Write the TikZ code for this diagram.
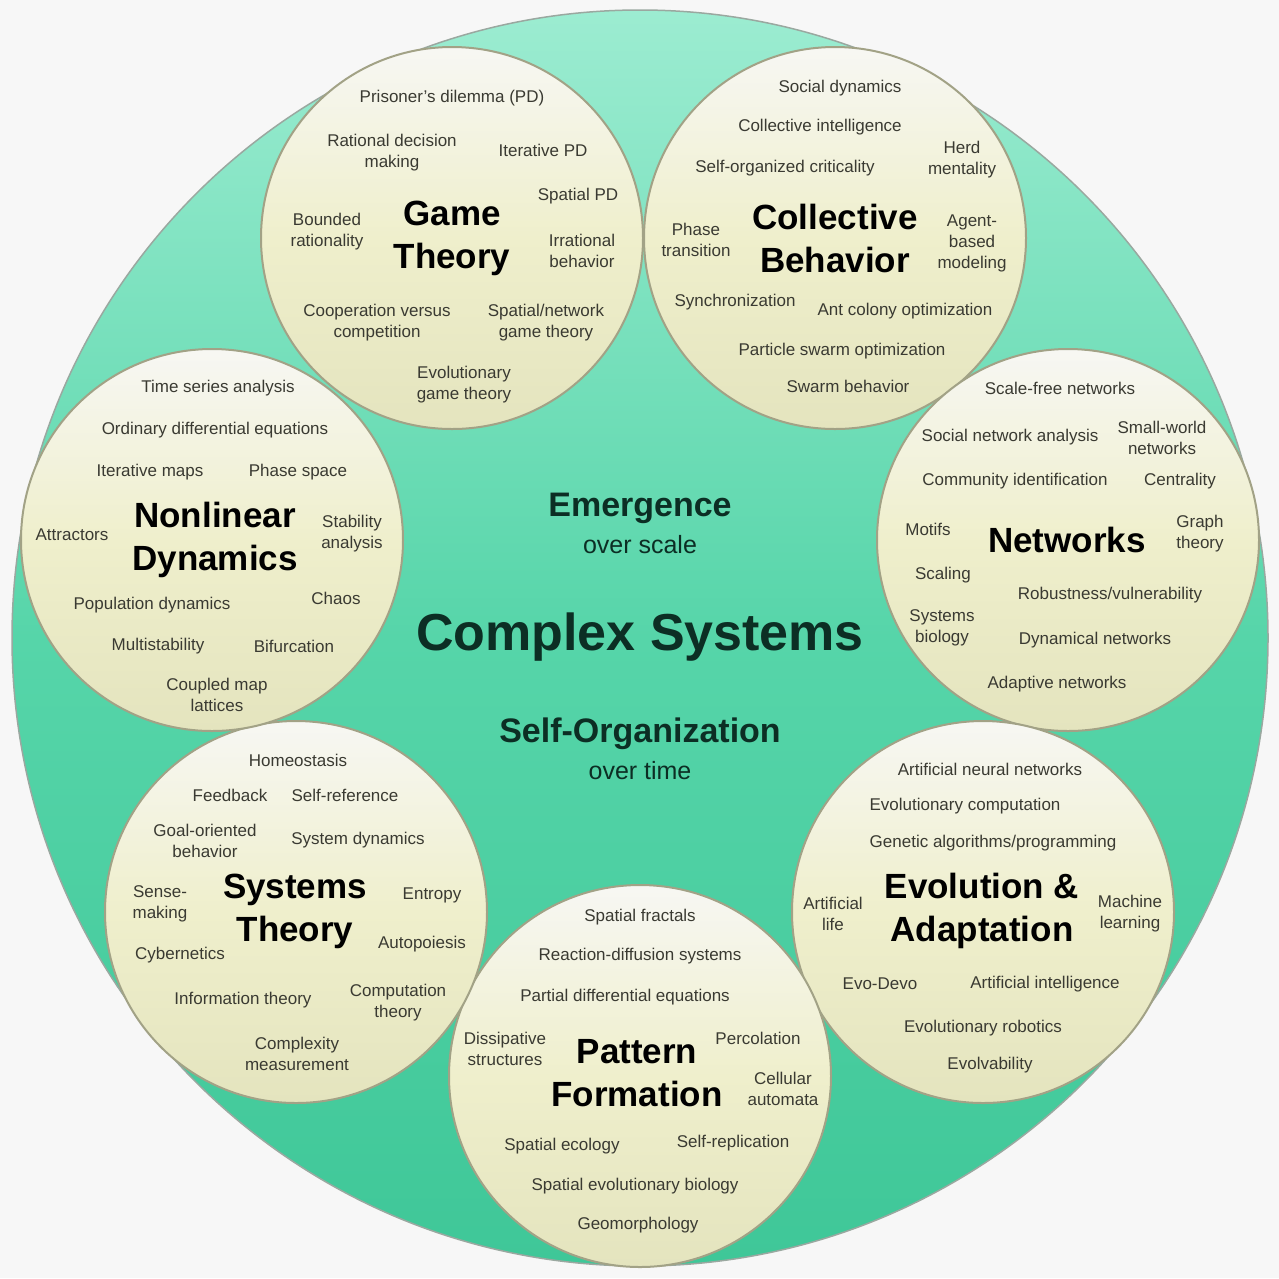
\documentclass[tikz,border=0pt]{standalone}
\usepackage{fontspec}
\setmainfont{Liberation Sans}
\definecolor{bgc}{HTML}{F7F7F7}
\definecolor{bigtop}{HTML}{9CECD1}
\definecolor{bigmid}{HTML}{56D5A9}
\definecolor{bigbot}{HTML}{3FC798}
\definecolor{bigedge}{HTML}{9AA8A0}
\definecolor{ctop}{HTML}{F7F7F3}
\definecolor{cmid}{HTML}{EFEFCC}
\definecolor{cbot}{HTML}{E4E4BE}
\definecolor{cedge}{HTML}{A2A286}
\definecolor{smalltxt}{HTML}{3A3A32}
\definecolor{centertxt}{HTML}{0C2E24}
\newcommand\lbl[3]{\node[small] (#1) at (#2) {#3};}
\begin{document}
\begin{tikzpicture}[x=1pt,y=-1pt,
  bigc/.style={circle,minimum size=1256pt,inner sep=0pt,draw=bigedge,line width=1.5pt,
    top color=bigtop,bottom color=bigbot,middle color=bigmid},
  topic/.style={circle,minimum size=382pt,inner sep=0pt,draw=cedge,line width=2pt,
    top color=ctop,bottom color=cbot,middle color=cmid},
  small/.style={align=center,inner sep=0pt,text=smalltxt,font=\fontsize{17pt}{21pt}\selectfont},
  title/.style={align=center,inner sep=0pt,text=black,font=\fontsize{35pt}{43pt}\selectfont\bfseries},
  ctitle/.style={align=center,inner sep=0pt,text=centertxt,font=\fontsize{34pt}{40pt}\selectfont\bfseries},
  csub/.style={align=center,inner sep=0pt,text=centertxt,font=\fontsize{25pt}{30pt}\selectfont},
  cbig/.style={align=center,inner sep=0pt,text=centertxt,font=\fontsize{52pt}{60pt}\selectfont\bfseries}]
\fill[bgc] (0,0) rectangle (1279,1278);
\useasboundingbox (0,0) rectangle (1279,1278);

\node[bigc] (big) at (640,638) {};

% topic circles
\node[topic] (cgt) at (452,238) {};
\node[topic] (ccb) at (835,238) {};
\node[topic] (cnw) at (1068,540) {};
\node[topic] (cev) at (983,912) {};
\node[topic] (cpf) at (640,1076) {};
\node[topic] (cst) at (296,912) {};
\node[topic] (cnd) at (212,540) {};

% center texts
\node[ctitle] (emer) at (640,508) {Emergence};
\node[csub] (os) at (640,545) {over scale};
\node[cbig] (cs) at (640,637) {Complex Systems};
\node[ctitle] (so) at (640,734) {Self-Organization};
\node[csub] (ot) at (640,771) {over time};

% Game Theory
\node[title] (tgt) at (452,238) {Game\\Theory};
\lbl{g1}{452,98}{Prisoner's dilemma (PD)}
\lbl{g2}{392,153}{Rational decision\\making}
\lbl{g3}{543,150}{Iterative PD}
\lbl{g4}{578,196}{Spatial PD}
\lbl{g5}{327,232}{Bounded\\rationality}
\lbl{g6}{582,251}{Irrational\\behavior}
\lbl{g7}{377,323}{Cooperation versus\\competition}
\lbl{g8}{546,323}{Spatial/network\\game theory}
\lbl{g9}{464,385}{Evolutionary\\game theory}

% Collective Behavior
\node[title] (tcb) at (835,238) {Collective\\Behavior};
\lbl{c1}{840,88}{Social dynamics}
\lbl{c2}{820,127}{Collective intelligence}
\lbl{c3}{785,168}{Self-organized criticality}
\lbl{c4}{962,160}{Herd\\mentality}
\lbl{c5}{696,240}{Phase\\transition}
\lbl{c6}{972,243}{Agent-\\based\\modeling}
\lbl{c7}{735,302}{Synchronization}
\lbl{c8}{905,311}{Ant colony optimization}
\lbl{c9}{842,351}{Particle swarm optimization}
\lbl{c10}{848,386}{Swarm behavior}

% Networks
\node[title] (tnw) at (1067,540) {Networks};
\lbl{n1}{1060,388}{Scale-free networks}
\lbl{n2}{1010,437}{Social network analysis}
\lbl{n3}{1162,438}{Small-world\\networks}
\lbl{n4}{1015,481}{Community identification}
\lbl{n5}{1180,481}{Centrality}
\lbl{n6}{928,529}{Motifs}
\lbl{n7}{1200,534}{Graph\\theory}
\lbl{n8}{943,575}{Scaling}
\lbl{n9}{1110,595}{Robustness/vulnerability}
\lbl{n10}{942,628}{Systems\\biology}
\lbl{n11}{1095,640}{Dynamical networks}
\lbl{n12}{1057,684}{Adaptive networks}

% Evolution & Adaptation
\node[title] (tev) at (982,911) {Evolution \&\\Adaptation};
\lbl{e1}{990,769}{Artificial neural networks}
\lbl{e2}{965,806}{Evolutionary computation}
\lbl{e3}{993,843}{Genetic algorithms/programming}
\lbl{e4}{833,914}{Artificial\\life}
\lbl{e5}{1130,914}{Machine\\learning}
\lbl{e6}{880,984}{Evo-Devo}
\lbl{e7}{1045,984}{Artificial intelligence}
\lbl{e8}{983,1028}{Evolutionary robotics}
\lbl{e9}{990,1065}{Evolvability}

% Pattern Formation
\node[title] (tpf) at (637,1073) {Pattern\\Formation};
\lbl{p1}{640,917}{Spatial fractals}
\lbl{p2}{640,956}{Reaction-diffusion systems}
\lbl{p3}{625,997}{Partial differential equations}
\lbl{p4}{505,1049}{Dissipative\\structures}
\lbl{p5}{758,1038}{Percolation}
\lbl{p6}{783,1089}{Cellular\\automata}
\lbl{p7}{562,1146}{Spatial ecology}
\lbl{p8}{733,1143}{Self-replication}
\lbl{p9}{635,1186}{Spatial evolutionary biology}
\lbl{p10}{638,1225}{Geomorphology}

% Systems Theory
\node[title] (tst) at (295,911) {Systems\\Theory};
\lbl{s1}{298,760}{Homeostasis}
\lbl{s2}{230,795}{Feedback}
\lbl{s3}{345,795}{Self-reference}
\lbl{s4}{205,841}{Goal-oriented\\behavior}
\lbl{s5}{358,840}{System dynamics}
\lbl{s6}{160,904}{Sense-\\making}
\lbl{s7}{180,955}{Cybernetics}
\lbl{s8}{432,895}{Entropy}
\lbl{s9}{422,944}{Autopoiesis}
\lbl{s10}{243,1000}{Information theory}
\lbl{s11}{398,1003}{Computation\\theory}
\lbl{s12}{297,1054}{Complexity\\measurement}

% Nonlinear Dynamics
\node[title] (tnd) at (215,540) {Nonlinear\\Dynamics};
\lbl{d1}{218,388}{Time series analysis}
\lbl{d2}{215,430}{Ordinary differential equations}
\lbl{d3}{150,472}{Iterative maps}
\lbl{d4}{298,472}{Phase space}
\lbl{d5}{72,535}{Attractors}
\lbl{d6}{352,534}{Stability\\analysis}
\lbl{d7}{152,605}{Population dynamics}
\lbl{d8}{336,598}{Chaos}
\lbl{d9}{158,646}{Multistability}
\lbl{d10}{294,646}{Bifurcation}
\lbl{d11}{217,695}{Coupled map\\lattices}
\end{tikzpicture}
\end{document}
